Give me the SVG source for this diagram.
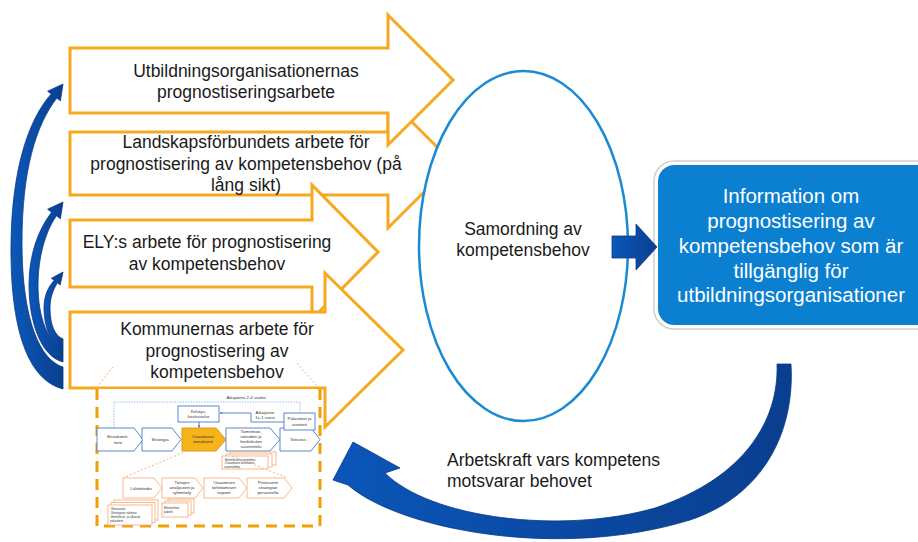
<svg xmlns="http://www.w3.org/2000/svg" width="918" height="542" viewBox="0 0 918 542">
<defs>
<style>
.oa{fill:#fff;stroke:#f6a81e;stroke-width:3;stroke-linejoin:miter}
.t{font-family:"Liberation Sans",Arial,sans-serif;font-size:17.5px;fill:#1a1a1a;text-anchor:middle}
.tl{font-family:"Liberation Sans",Arial,sans-serif;font-size:17.5px;fill:#1a1a1a}
.tw{font-family:"Liberation Sans",Arial,sans-serif;font-size:20.5px;fill:#fff;text-anchor:middle}
.bc{fill:url(#gb);stroke:#073a86;stroke-width:0.8}
.pb{fill:#fff;stroke:#4a7ac8;stroke-width:0.9}
.po{fill:#fff;stroke:#f4b183;stroke-width:0.9}
.s{font-family:"Liberation Sans",Arial,sans-serif;font-size:4.3px;fill:#333;text-anchor:middle}
.ss{font-family:"Liberation Sans",Arial,sans-serif;font-size:3px;fill:#333}
.zl{fill:none;stroke:#f4b183;stroke-width:1;stroke-dasharray:2 2}
</style>
<linearGradient id="gb" x1="0" y1="0" x2="1" y2="0">
<stop offset="0" stop-color="#0c57b8"/>
<stop offset="1" stop-color="#093f90"/>
</linearGradient>
<linearGradient id="gb2" x1="0" y1="0" x2="1" y2="0">
<stop offset="0" stop-color="#0a56b8"/>
<stop offset="1" stop-color="#0a3e8e"/>
</linearGradient>
<marker id="ma" viewBox="0 0 6 6" refX="5" refY="3" markerWidth="3" markerHeight="3" orient="auto">
<path d="M0,0 L6,3 L0,6 Z" fill="#4a7ac8"/>
</marker>
</defs>

<g id="arrow-landskap">
<polygon class="oa" points="70,132 388,132 388,98 453,163 388,228 388,195 70,195"/>
<text class="t" x="246" y="148">Landskapsförbundets arbete för</text>
<text class="t" x="246" y="170">prognostisering av kompetensbehov (på</text>
<text class="t" x="246" y="191">lång sikt)</text>
</g>
<g id="arrow-ely">
<polygon class="oa" points="70,220 312,220 312,185 378,252 312,319 312,287 70,287"/>
<text class="t" x="207" y="248">ELY:s arbete för prognostisering</text>
<text class="t" x="207" y="270">av kompetensbehov</text>
</g>
<g id="arrow-kommun">
<polygon class="oa" points="70,312 325,312 325,273 403,350 325,427 325,388 70,388"/>
<text class="t" x="217" y="335">Kommunernas arbete för</text>
<text class="t" x="217" y="357">prognostisering av</text>
<text class="t" x="217" y="378">kompetensbehov</text>
</g>
<g id="arrow-utb">
<polygon class="oa" points="70,48 388,48 388,15 453,80 388,145 388,113 70,113"/>
<text class="t" x="246" y="77">Utbildningsorganisationernas</text>
<text class="t" x="246" y="98">prognostiseringsarbete</text>
</g>

<g id="samordning">
<ellipse cx="523.5" cy="246" rx="104.5" ry="175" fill="#fff" stroke="#1b8ad3" stroke-width="2.5"/>
<text class="t" x="523" y="235">Samordning av</text>
<text class="t" x="523" y="256">kompetensbehov</text>
</g>

<g id="information">
<rect x="654" y="161" width="290" height="168" rx="20" fill="none" stroke="#cfcfcf" stroke-width="1.5"/>
<rect x="656.5" y="163.5" width="290" height="163" rx="18" fill="#0b7fd0" stroke="#fff" stroke-width="3"/>
<text class="tw" x="791" y="203">Information om</text>
<text class="tw" x="791" y="228">prognostisering av</text>
<text class="tw" x="791" y="253">kompetensbehov som är</text>
<text class="tw" x="791" y="278">tillgänglig för</text>
<text class="tw" x="791" y="302">utbildningsorganisationer</text>
</g>

<g id="inset">
<line class="zl" x1="113" y1="367" x2="98" y2="386"/>
<line class="zl" x1="297" y1="363" x2="317" y2="386"/>
<rect x="97" y="389" width="223" height="137" fill="#fff" stroke="none"/>
<path d="M97,389 V526 H320 V389" fill="none" stroke="#f0a000" stroke-width="3" stroke-dasharray="11 7"/>
<polyline points="114,428 114,402 300,402 300,413" fill="none" stroke="#8fb8e6" stroke-width="0.9" stroke-dasharray="1.5 1.2"/>
<text class="s" x="246" y="399">Aikajänne 2-4 vuotta</text>
<rect class="pb" x="178" y="406" width="41" height="16"/>
<text class="s" x="198.5" y="412.5">Kehitys-</text>
<text class="s" x="198.5" y="418">keskustelut</text>
<line x1="199" y1="422" x2="199" y2="427.5" stroke="#4a7ac8" stroke-width="0.9" marker-end="url(#ma)"/>
<polyline points="284,422 251,422 251,413 220,413" fill="none" stroke="#4a7ac8" stroke-width="0.9" marker-end="url(#ma)"/>
<text class="s" x="265" y="414">Aikajänne</text>
<text class="s" x="265" y="419">1v-1 vuosi</text>
<path class="pb" d="M97,428 H134 L143,439.5 L134,451 H97 Z"/>
<text class="s" x="118" y="437.5">Ennakointi-</text>
<text class="s" x="118" y="443.5">tieto</text>
<path class="pb" d="M142,428 H172 L181,439.5 L172,451 H142 Z"/>
<text class="s" x="160" y="441">Strategia</text>
<path d="M182,428 H216 L226,439.5 L216,451 H182 Z" fill="#f5b41a" stroke="#d8960a" stroke-width="0.9"/>
<text class="s" x="203" y="437.5">Osaamisen</text>
<text class="s" x="203" y="443">ennakointi</text>
<path class="pb" d="M226,428 H270 L280,439.5 L270,451 H226 Z"/>
<text class="s" x="251" y="433">Toiminnan,</text>
<text class="s" x="251" y="438">talouden ja</text>
<text class="s" x="251" y="443">henkilöstön</text>
<text class="s" x="251" y="448">suunnittelu</text>
<path class="pb" d="M280,428 H311 L320,439.5 L311,451 H280 Z"/>
<text class="s" x="298" y="441">Toteutus</text>
<rect class="pb" x="284" y="413" width="31" height="17"/>
<text class="s" x="299.5" y="420">Palautteet ja</text>
<text class="s" x="299.5" y="425.5">arviointi</text>
<rect class="po" x="230" y="452" width="46" height="13"/>
<rect class="po" x="226" y="454" width="46" height="13"/>
<rect class="po" x="222" y="456" width="46" height="13"/>
<text class="ss" x="224" y="460.5">-Henkilöstösuunnitelma</text>
<text class="ss" x="224" y="464">-Osaamisen kehittämis-</text>
<text class="ss" x="224" y="467.5">suunnitelma</text>
<line class="zl" x1="187" y1="451" x2="123" y2="478"/>
<line class="zl" x1="232" y1="456" x2="288" y2="478"/>
<path class="po" d="M123,478 H154 L162,488 L154,498 H123 Z"/>
<text class="s" x="141" y="489.5">Lähtötiedot</text>
<path class="po" d="M162,478 H195 L203,488 L195,498 H162 Z"/>
<text class="s" x="182" y="483.5">Tietojen</text>
<text class="s" x="182" y="488.5">analysointi ja</text>
<text class="s" x="182" y="493.5">ryhmittely</text>
<path class="po" d="M204,478 H239 L247,488 L239,498 H204 Z"/>
<text class="s" x="224" y="483.5">Osaamisen</text>
<text class="s" x="224" y="488.5">kehittämisen</text>
<text class="s" x="224" y="493.5">tarpeet</text>
<path class="po" d="M247,478 H284 L292,488 L284,498 H247 Z"/>
<text class="s" x="268" y="483.5">Priorisointi</text>
<text class="s" x="268" y="488.5">strategian</text>
<text class="s" x="268" y="493.5">perusteella</text>
<rect class="po" x="114" y="500" width="44" height="20"/>
<rect class="po" x="111" y="502.5" width="44" height="20"/>
<rect class="po" x="108" y="505" width="44" height="20"/>
<text class="ss" x="110" y="510">-Skenaariot</text>
<text class="ss" x="110" y="514">-Strategiset valinnat</text>
<text class="ss" x="110" y="518">-Henkilöstö- ja ulkoiset</text>
<text class="ss" x="110" y="522">palautteet</text>
<rect class="po" x="168" y="499" width="26" height="14"/>
<rect class="po" x="165" y="501" width="26" height="14"/>
<rect class="po" x="162" y="503" width="26" height="14"/>
<text class="ss" x="164" y="509">Menetelmä-</text>
<text class="ss" x="164" y="513">paketti</text>
</g>

<g id="connectors">
<path class="bc" d="M63,389 C28,380 10,330 11,243 C12,170 28,120 51.2,93.9 L47.6,91.2 L63,84 L60.4,100.8 L56.8,98.1 C36,125 22,170 22,243 C22,320 40,360 63,367 Z"/>
<path class="bc" d="M63,362 C40,356 29,320 29,285 C29,255 38,230 51.6,212.2 L47.6,209.2 L63,202 L60.4,218.8 L56.4,215.8 C45,232 38,258 38,285 C38,318 48,342 63,348 Z"/>
<path class="bc" d="M63,348 C50,345 44,325 44,308 C44,296 48,287 54.2,280.4 L51.4,278.3 L63,272 L60.2,284.9 L57.4,282.8 C53,290 50,298 50,308 C50,325 55,336 63,339 Z"/>
<polygon points="612,236 636,236 636,224 657,247 636,270 636,258 612,258" fill="url(#gb)" stroke="#073a86" stroke-width="0.8"/>
<path d="M348,485 C400,530 560,560 690,520 C765,495 795,430 791,364 L777,364 C779,420 745,478 655,508 C560,535 430,518 385,473 L400,468 L353,442 L333,480 Z" fill="url(#gb2)" stroke="#073a86" stroke-width="0.8"/>
<text class="tl" x="447" y="466">Arbetskraft vars kompetens</text>
<text class="tl" x="447" y="487">motsvarar behovet</text>
</g>
</svg>
